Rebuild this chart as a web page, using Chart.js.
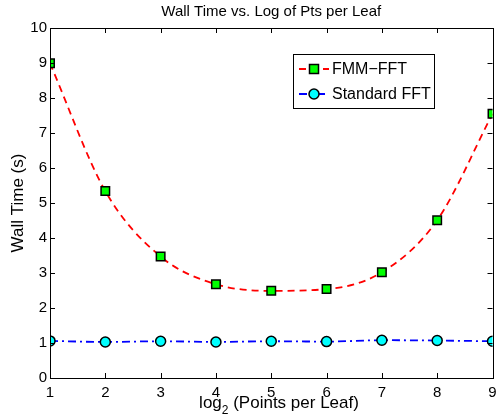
<!DOCTYPE html>
<html>
<head>
<meta charset="utf-8">
<script src="https://cdn.jsdelivr.net/npm/chart.js@4/dist/chart.umd.min.js"></script>
<style>
  html, body { margin: 0; padding: 0; background: #fff; }
  #wrap { width: 500px; height: 416px; }
</style>
</head>
<body>
<div id="wrap"><canvas id="chartWall" width="500" height="416"></canvas></div>
<script>
// ===== data =====
const xValues = [1, 2, 3, 4, 5, 6, 7, 8, 9];
const fmmFft = [8.99, 5.34, 3.47, 2.68, 2.49, 2.54, 3.02, 4.51, 7.55];
const standardFft = [1.06, 1.03, 1.05, 1.03, 1.05, 1.04, 1.08, 1.07, 1.05];
const yTicks = [0, 1, 2, 3, 4, 5, 6, 7, 8, 9, 10];
const seriesNames = ['FMM\u2212FFT', 'Standard FFT'];

const FONT = "'Liberation Sans', Arial, Helvetica, sans-serif";

// frame, inward ticks, titles and legend (MATLAB look)
const matlabFrame = {
    id: 'matlabFrame',
    afterDraw(chart) {
        const ctx = chart.ctx;
        const a = chart.chartArea;
        const xs = chart.scales.x, ys = chart.scales.y;
        const tl = 5;
        ctx.save();
        ctx.strokeStyle = '#000';
        ctx.lineWidth = 1;
        ctx.beginPath();
        xValues.forEach(v => {
            const px = Math.round(xs.getPixelForValue(v)) + 0.5;
            ctx.moveTo(px, a.bottom); ctx.lineTo(px, a.bottom - tl);
            ctx.moveTo(px, a.top); ctx.lineTo(px, a.top + tl);
        });
        yTicks.forEach(v => {
            const py = Math.round(ys.getPixelForValue(v)) + 0.5;
            ctx.moveTo(a.left, py); ctx.lineTo(a.left + tl, py);
            ctx.moveTo(a.right, py); ctx.lineTo(a.right - tl, py);
        });
        ctx.stroke();
        ctx.strokeRect(Math.round(a.left) + 0.5, Math.round(a.top) + 0.5,
            Math.round(a.right - a.left), Math.round(a.bottom - a.top));

        // title
        ctx.fillStyle = '#000';
        ctx.font = '15px ' + FONT;
        ctx.textAlign = 'center';
        ctx.textBaseline = 'alphabetic';
        ctx.fillText('Wall Time vs. Log of Pts per Leaf', (a.left + a.right) / 2, 16);

        // y title
        ctx.font = '17px ' + FONT;
        ctx.save();
        ctx.translate(23, (a.top + a.bottom) / 2);
        ctx.rotate(-Math.PI / 2);
        ctx.fillText('Wall Time (s)', 0, 0);
        ctx.restore();

        // x title with subscript
        const p1 = 'log', sub = '2', p2 = ' (Points per Leaf)';
        ctx.font = '17px ' + FONT;
        const w1 = ctx.measureText(p1).width, w3 = ctx.measureText(p2).width;
        ctx.font = '12px ' + FONT;
        const w2 = ctx.measureText(sub).width;
        const x0 = 279 - (w1 + w2 + w3) / 2;
        ctx.textAlign = 'left';
        ctx.font = '17px ' + FONT;
        ctx.fillText(p1, x0, 408);
        ctx.font = '12px ' + FONT;
        ctx.fillText(sub, x0 + w1, 414);
        ctx.font = '17px ' + FONT;
        ctx.fillText(p2, x0 + w1 + w2, 408);

        // legend
        const lx = 293, ly = 54, lw = 141, lh = 54;
        ctx.fillStyle = '#fff';
        ctx.fillRect(lx, ly, lw, lh);
        ctx.strokeRect(lx + 0.5, ly + 0.5, lw, lh);
        chart.data.datasets.forEach((ds, i) => {
            const cy = ly + 15 + i * 25;
            ctx.strokeStyle = ds.borderColor;
            ctx.lineWidth = ds.borderWidth;
            ctx.setLineDash(ds.borderDash);
            ctx.beginPath();
            ctx.moveTo(lx + 6, cy); ctx.lineTo(lx + 36, cy);
            ctx.stroke();
            ctx.setLineDash([]);
            ctx.fillStyle = ds.pointBackgroundColor;
            ctx.strokeStyle = '#000';
            ctx.lineWidth = ds.pointBorderWidth;
            ctx.beginPath();
            if (ds.pointStyle === 'rect') {
                ctx.rect(lx + 21 - 4.5, cy - 4.5, 9, 9);
            } else {
                ctx.arc(lx + 21, cy, ds.pointRadius, 0, Math.PI * 2);
            }
            ctx.fill(); ctx.stroke();
            ctx.fillStyle = '#000';
            ctx.font = '16px ' + FONT;
            ctx.textBaseline = 'middle';
            ctx.fillText(seriesNames[i], lx + 39, cy + 1);
        });
        ctx.restore();
    }
};

new Chart(document.getElementById('chartWall'), {
    type: 'line',
    data: {
        datasets: [{
            label: seriesNames[0],
            data: xValues.map((x, i) => ({ x: x, y: fmmFft[i] })),
            borderColor: '#ff0000',
            borderWidth: 1.8,
            borderDash: [7, 5],
            cubicInterpolationMode: 'monotone',
            pointStyle: 'rect',
            pointRadius: 6,
            pointBackgroundColor: '#00ff00',
            pointBorderColor: '#000',
            pointBorderWidth: 1.5
        }, {
            label: seriesNames[1],
            data: xValues.map((x, i) => ({ x: x, y: standardFft[i] })),
            borderColor: '#0000ff',
            borderWidth: 1.8,
            borderDash: [8, 4, 2, 4],
            cubicInterpolationMode: 'monotone',
            pointStyle: 'circle',
            pointRadius: 5,
            pointBackgroundColor: '#00ffff',
            pointBorderColor: '#000',
            pointBorderWidth: 1.5
        }]
    },
    options: {
        responsive: false,
        animation: false,
        layout: { padding: { top: 28, right: 5, left: 0, bottom: 0 } },
        plugins: {
            legend: { display: false },
            title: { display: false },
            tooltip: { enabled: false }
        },
        scales: {
            x: {
                type: 'linear',
                min: 1, max: 9,
                grid: { display: false, drawTicks: false },
                border: { display: false },
                afterFit: s => { s.height = 38; s.paddingLeft = 0; s.paddingRight = 0; },
                afterBuildTicks: s => { s.ticks = xValues.map(v => ({ value: v })); },
                ticks: { color: '#000', padding: 6, font: { family: FONT, size: 15 } }
            },
            y: {
                type: 'linear',
                min: 0, max: 10,
                grid: { display: false, drawTicks: false },
                border: { display: false },
                afterFit: s => { s.width = 50; s.paddingTop = 0; s.paddingBottom = 0; },
                afterBuildTicks: s => { s.ticks = yTicks.map(v => ({ value: v })); },
                ticks: { color: '#000', padding: 3, font: { family: FONT, size: 15 } }
            }
        }
    },
    plugins: [matlabFrame]
});
</script>
</body>
</html>
